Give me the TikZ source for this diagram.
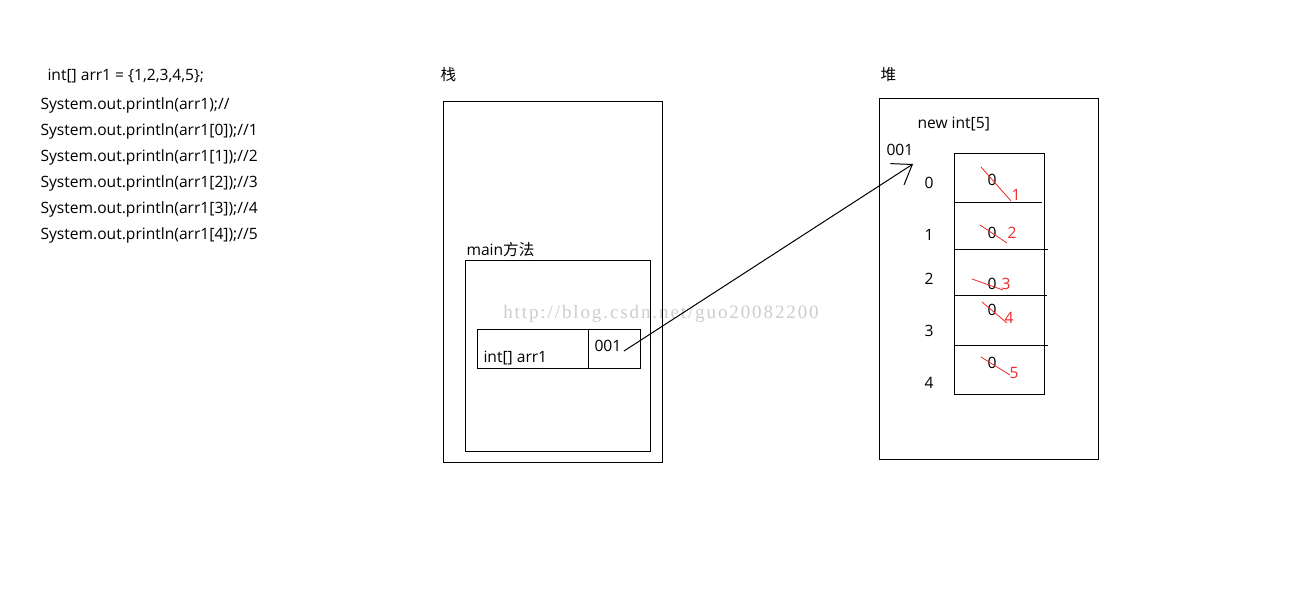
\documentclass[tikz,border=0pt]{standalone}
\usepackage{fontspec}
\setmainfont{Open Sans}
\newfontfamily\cjk{Noto Sans CJK SC}
\newfontfamily\wmfont[LetterSpace=10]{Liberation Serif}
\usetikzlibrary{arrows.meta}
\definecolor{redmark}{RGB}{240,40,40}
\definecolor{wmgray}{RGB}{205,205,205}
\begin{document}
\begin{tikzpicture}[x=0.75pt,y=-0.75pt,line width=0.75pt,
  txt/.style={inner sep=0pt,anchor=base west,font=\fontsize{11.7}{13}\selectfont},
  ctxt/.style={inner sep=0pt,anchor=base,font=\fontsize{11.7}{13}\selectfont},
  rtxt/.style={ctxt,text=redmark},
  strike/.style={draw=redmark,line width=0.6pt},
  boxline/.style={draw=black,line width=0.75pt},
  ptr/.style={-{Straight Barb[length=13.5pt,width=19pt,line width=0.75pt]},line width=0.75pt}]
\useasboundingbox[fill=white] (0,0) rectangle (1302,602);

% watermark
\node[inner sep=0pt,anchor=base,text=wmgray,font=\wmfont\fontsize{14.25}{16}\selectfont] (wm) at (661,318) {http://blog.csdn.net/guo20082200};

% code lines
\node[txt] (decl) at (47,81) {int[] arr1 = \{1,2,3,4,5\};};
\node[txt] (p0) at (40,110) {System.out.println(arr1);//};
\node[txt] (p1) at (40,136) {System.out.println(arr1[0]);//1};
\node[txt] (p2) at (40,162) {System.out.println(arr1[1]);//2};
\node[txt] (p3) at (40,188) {System.out.println(arr1[2]);//3};
\node[txt] (p4) at (40,214) {System.out.println(arr1[3]);//4};
\node[txt] (p5) at (40,240) {System.out.println(arr1[4]);//5};

% stack
\node[txt,font=\cjk\fontsize{11.7}{13}\selectfont] (stacklbl) at (440,81) {栈};
\draw[boxline] (443,102) coordinate (stackNW) rectangle (662,462) coordinate (stackSE);
\node[txt] (mainlbl) at (466,256) {main{\cjk 方法}};
\draw[boxline] (465,261) coordinate (mainNW) rectangle (650,451) coordinate (mainSE);
\draw[boxline] (477,329) coordinate (varNW) rectangle (640,368) coordinate (varSE);
\draw[boxline] (588,329) coordinate (divT) -- (588,368) coordinate (divB);
\node[txt] (varname) at (483,362) {int[] arr1};
\node[txt] (varval) at (594,351) {001};

% heap
\node[txt,font=\cjk\fontsize{11.7}{13}\selectfont] (heaplbl) at (880,81) {堆};
\draw[boxline] (879,99) coordinate (heapNW) rectangle (1098,459) coordinate (heapSE);
\node[txt] (newlbl) at (917,129) {new int[5]};
\node[txt] (addr) at (886,156) {001};

% array
\draw[boxline] (954,154) coordinate (arrNW) rectangle (1044,394) coordinate (arrSE);
\draw[boxline] (954,203) coordinate (r1a) -- (1042,203) coordinate (r1b);
\draw[boxline] (954,250) coordinate (r2a) -- (1048,250) coordinate (r2b);
\draw[boxline] (954,295) coordinate (r3a) -- (1047,295) coordinate (r3b);
\draw[boxline] (954,345) coordinate (r4a) -- (1048,345) coordinate (r4b);

% indices
\node[ctxt] (i0) at (929,189) {0};
\node[ctxt] (i1) at (929,241) {1};
\node[ctxt] (i2) at (929,284) {2};
\node[ctxt] (i3) at (929,336) {3};
\node[ctxt] (i4) at (929,388) {4};

% values
\node[ctxt] (v0) at (992,185.5) {0};
\node[ctxt] (v1) at (992,238.5) {0};
\node[ctxt] (v2) at (992,289.5) {0};
\node[ctxt] (v3) at (992,315.5) {0};
\node[ctxt] (v4) at (992,368.5) {0};
\node[rtxt] (n0) at (1016,200.5) {1};
\node[rtxt] (n1) at (1012,238.5) {2};
\node[rtxt] (n2) at (1006,289.5) {3};
\node[rtxt] (n3) at (1009,323.5) {4};
\node[rtxt] (n4) at (1014,378.5) {5};
\draw[strike] (981,167) coordinate (s0a) -- (1011,201) coordinate (s0b);
\draw[strike] (980,225) coordinate (s1a) -- (1007,243) coordinate (s1b);
\draw[strike] (972,279) coordinate (s2a) -- (1003,290) coordinate (s2b);
\draw[strike] (982,302) coordinate (s3a) -- (1007,323) coordinate (s3b);
\draw[strike] (981,357) coordinate (s4a) -- (1010,375) coordinate (s4b);

% pointer
\coordinate (ptrsrc) at (624,351);
\coordinate (ptrdst) at (913,164);
\draw[ptr] (ptrsrc) -- (ptrdst);
\end{tikzpicture}
\end{document}
